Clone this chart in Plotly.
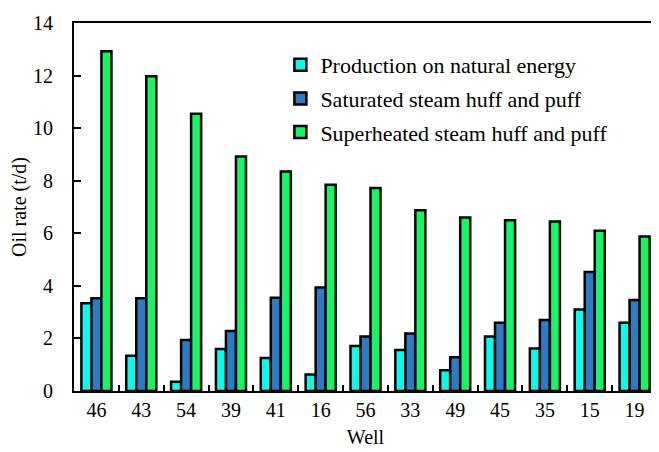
import plotly.graph_objects as go

wells = ["46", "43", "54", "39", "41", "16", "56", "33", "49", "45", "35", "15", "19"]
natural = [3.34, 1.34, 0.35, 1.60, 1.26, 0.63, 1.71, 1.56, 0.79, 2.07, 1.62, 3.10, 2.60]
saturated = [3.53, 3.53, 1.94, 2.28, 3.55, 3.94, 2.07, 2.19, 1.28, 2.60, 2.70, 4.53, 3.46]
superheated = [12.93, 11.97, 10.55, 8.92, 8.35, 7.85, 7.72, 6.88, 6.60, 6.50, 6.45, 6.10, 5.88]

names = ["Production on natural energy", "Saturated steam huff and puff", "Superheated steam huff and puff"]
colors = ["#00FFEC", "#2A7CC6", "#10F865"]

FONT = "Liberation Serif"

fig = go.Figure()
for i, (vals, nm, col) in enumerate(zip([natural, saturated, superheated], names, colors)):
    fig.add_trace(go.Bar(
        x=wells, y=vals, name=nm, legendgroup=f"g{i}",
        marker=dict(color=col, line=dict(color="black", width=2.5)),
    ))

fig.update_layout(
    width=651, height=444,
    margin=dict(l=66, r=2, t=15, b=61),
    paper_bgcolor="white", plot_bgcolor="white",
    barmode="group", bargap=0.33, bargroupgap=0,
    font=dict(family=FONT, size=20, color="black"),
    legend=dict(
        x=0.354, y=0.943, xanchor="left", yanchor="top",
        bgcolor="rgba(0,0,0,0)", font=dict(family=FONT, size=22),
        traceorder="grouped", tracegroupgap=2, itemwidth=30,
    ),
    showlegend=True,
)
fig.update_xaxes(
    automargin=False,
    showline=True, linecolor="black", linewidth=2, mirror=True,
    ticks="inside", tickson="boundaries", ticklen=6, tickwidth=2, tickcolor="black",
    ticklabelstandoff=0,
    title=dict(text="Well", font=dict(family=FONT, size=20), standoff=10),
    tickfont=dict(family=FONT, size=20),
)
fig.update_yaxes(
    automargin=False,
    range=[0, 14], dtick=2, showgrid=False, zeroline=False,
    showline=True, linecolor="black", linewidth=2, mirror=True,
    ticks="inside", ticklen=7, tickwidth=2, tickcolor="black",
    ticklabelstandoff=15,
    title=dict(text="Oil rate (t/d)", font=dict(family=FONT, size=20), standoff=1),
    tickfont=dict(family=FONT, size=20),
)

fig.write_html("out.html")
